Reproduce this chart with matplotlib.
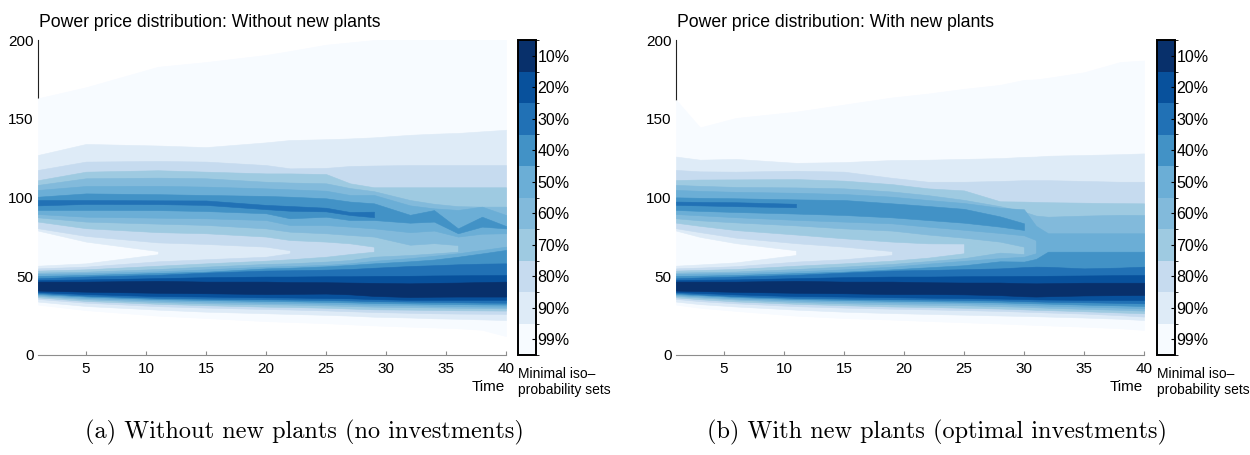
import matplotlib
matplotlib.use('Agg')
import matplotlib.pyplot as plt
import numpy as np
from matplotlib.colors import ListedColormap, BoundaryNorm
from matplotlib.cm import ScalarMappable

plt.rcParams['font.family'] = 'Liberation Sans'

nan = np.nan

# iso-probability levels, from the widest set (lightest) to the narrowest (darkest)
levels = ['99%', '90%', '80%', '70%', '60%', '50%', '40%', '30%', '20%', '10%']
colors = ['#f7fbff', '#deebf7', '#c6dbef', '#9ecae1', '#82badb',
          '#6baed6', '#4292c6', '#2171b5', '#08519c', '#08306b']

# ---- panel (a): without new plants ----
time_a = [1, 5, 11, 15, 20, 22, 25, 27, 29, 32, 34, 36, 38, 40]

# lower mode (low prices) of each set
a_low_bottom = [
    [32, 28.5, 25, 23.5, 21.5, 21, 20.2, 19.5, 18.8, 18, 17.5, 17, 16, 12],
    [33.9, 31.1, 28.8, 27.5, 26.5, 26.1, 25.5, 25, 24.3, 23.8, 23.3, 23, 22.6, 22.2],
    [35.6, 33.2, 31, 30.1, 29.2, 28.9, 28.3, 27.8, 27.3, 26.8, 26.5, 26.3, 26.2, 26.1],
    [36.6, 34.3, 32.5, 31.6, 30.7, 30.5, 30, 29.5, 29, 28.8, 28.6, 28.4, 28.3, 28.2],
    [37.5, 35.4, 33.6, 32.8, 32.2, 32, 31.5, 31.1, 30.7, 30.4, 30.2, 30, 29.8, 29.6],
    [38.1, 36.2, 34.6, 33.9, 33.2, 33, 32.6, 32.2, 31.9, 31.6, 31.3, 31, 30.8, 30.7],
    [38.7, 37.1, 35.5, 34.9, 34.3, 34.1, 33.7, 33.4, 33, 32.7, 32.5, 32.3, 32.1, 32],
    [39.4, 37.7, 36.3, 35.8, 35.4, 35.2, 34.9, 34.6, 34.2, 33.9, 33.7, 33.5, 33.3, 33.2],
    [40, 38.7, 37.4, 37.1, 36.6, 36.5, 36.2, 36, 35.5, 35, 35, 35, 35, 35],
    [40.9, 40.2, 39.5, 39.2, 38.7, 38.8, 39, 38.5, 37.5, 36.8, 37, 37.1, 37.1, 37.1],
]
a_low_top = [
    [163, 170, 183, 186, 190.5, 193, 197, 198.5, 200, 201, 201, 201, 201, 201],
    [56.7, 58.2, 64, 65, 65, 65, 65, 65, 65, 65, 65, 65, 65, 65],
    [55, 56.1, 59.5, 60.8, 62.4, 64.6, 66, 66, 66, 66, 66, 66, 66, 66],
    [53.6, 54.4, 56.7, 58.2, 59.9, 60.8, 62.4, 64.1, 65.6, 67, 67, 67, 67, 67],
    [52.3, 52.9, 54.6, 56.1, 57.8, 58.2, 59.3, 60.3, 62.4, 63.5, 64.5, 65.6, 67, 67],
    [51.5, 51.9, 53.1, 54.4, 56.1, 56.5, 57.2, 58.2, 59.8, 61.5, 63, 64.6, 66.7, 68.8],
    [50.2, 50.8, 52.1, 52.9, 55, 55.4, 56.3, 57.2, 58.2, 59.5, 60.6, 62.4, 64.5, 66.7],
    [48.7, 49.8, 50.9, 52.3, 53.6, 53.8, 54.2, 54.6, 55.4, 56.5, 57, 57.6, 58, 58.2],
    [47.6, 48, 48.8, 49.4, 49.8, 49.8, 50, 50, 50.2, 50.3, 50.5, 50.6, 50.7, 50.8],
    [46.6, 46.6, 47.1, 46.6, 46.6, 46.3, 46.2, 46, 45.8, 45.5, 45.8, 46, 46.3, 46.6],
]
# upper mode (high prices) of each set, nan where the set has no upper part
a_high_bottom = [
    None,
    [79, 72, 66, 65, 65, 65, 65, 65, 65, 65, 65, 65, 65, 65],
    [80.5, 75.6, 71.5, 70.5, 68.8, 66.5, 66, 66, 66, 66, 66, 66, 66, 66],
    [84.7, 80.5, 78, 77.3, 75.2, 73, 72, 70.9, 68.8, 67, 67, 67, 67, 67],
    [87.4, 84.7, 83.4, 82.6, 80.4, 78.3, 77.3, 76.2, 75.2, 70, 71, 69.8, 67, 67],
    [89.5, 87.8, 87.2, 86.8, 85.7, 82.5, 82.5, 81.5, 80.4, 78, 79, 75.2, 77, 77.3],
    [92.1, 92.1, 92, 91.4, 90, 86.8, 87.8, 85.7, 85.7, 84, 84.7, 77.3, 81.5, 80.4],
    [95, 95.9, 95.8, 95.3, 92.6, 91.6, 91.2, 88.9, 87.5, nan, nan, nan, nan, nan],
    None,
    None,
]
a_high_top = [
    None,
    [127, 134, 133, 132, 135, 136.5, 137, 137.5, 138.2, 139.8, 140.5, 141, 142, 143],
    [117.5, 122.8, 123.2, 122.8, 120.6, 118.5, 118.8, 120, 120.3, 120.6, 120.6, 120.6, 120.6, 120.6],
    [111, 116.4, 117.3, 116.4, 115.3, 115.3, 114.9, 109, 106.5, 106.5, 106.5, 106.5, 106.5, 106.5],
    [108, 112.2, 112.6, 112.2, 110, 109.5, 109, 106, 104, 98.4, 96, 94.5, 94.2, 94.2],
    [104.8, 107.3, 107.4, 106.9, 105.8, 105.2, 104.3, 101.6, 101.6, 95, 93.1, 92.1, 94.2, 88.9],
    [100.5, 102.6, 102.1, 101.6, 101, 100.5, 99.5, 97.4, 96.3, 89, 92, 80.4, 87.8, 81.9],
    [98.4, 98.4, 98.2, 98.1, 95.3, 94.6, 93.5, 90.8, 91, nan, nan, nan, nan, nan],
    None,
    None,
]
# time at which the two parts of a set join
a_merge = [None, 11, 22, 29, 36, None, None, None, None, None]

# ---- panel (b): with new plants ----
time_b = [1, 3, 6, 11, 15, 19, 22, 25, 28, 30, 31, 32, 35, 38, 40]

b_low_bottom = [
    [32, 30, 28, 25, 23.5, 22.5, 21.6, 20.8, 20, 19.4, 19.1, 18.8, 18, 17, 15.9],
    [33.9, 32.3, 30.8, 28.8, 27.5, 26.6, 26.1, 25.6, 25.1, 24.8, 24.6, 24.4, 23.8, 23, 22.2],
    [35.6, 34.2, 32.8, 31, 30.1, 29.4, 29, 28.5, 28, 27.5, 27.3, 27, 26.3, 25.3, 24.4],
    [36.6, 35.4, 34, 32.5, 31.6, 30.8, 30.5, 30, 29.5, 29, 28.7, 28.5, 27.8, 27, 26.5],
    [37.5, 36.5, 35.2, 33.6, 32.8, 32.2, 31.9, 31.6, 31, 30.6, 30.3, 30, 29.3, 28.7, 28.2],
    [38.1, 37.2, 35.9, 34.6, 33.9, 33.4, 33.1, 32.8, 32.3, 31.8, 31.5, 31.3, 30.7, 30.1, 29.6],
    [38.7, 38, 36.8, 35.5, 34.9, 34.4, 34.1, 33.8, 33.4, 33, 32.8, 32.6, 32, 31.5, 31.1],
    [39.4, 38.5, 37.4, 36.3, 35.8, 35.4, 35.2, 34.9, 34.6, 34.2, 34, 33.8, 33.5, 33.1, 32.8],
    [40, 39.4, 38.5, 37.4, 37.1, 36.7, 36.4, 36.1, 35.8, 35.5, 35.3, 35.2, 35, 34.9, 34.9],
    [40.9, 40.6, 40.1, 39.5, 39.2, 38.7, 38.7, 38.5, 38, 37.3, 37.1, 37.3, 37.8, 38, 38.1],
]
b_low_top = [
    [162, 144.5, 150.5, 154.5, 159, 163.5, 166, 169, 171.5, 174.7, 175, 176, 179.5, 186, 187],
    [56.7, 57.5, 58.8, 63.5, 65, 65, 65, 65, 65, 65, 65, 65, 65, 65, 65],
    [55, 55.5, 56.4, 59.3, 60.8, 63.5, 66, 66, 66, 66, 66, 66, 66, 66, 66],
    [53.6, 54, 54.6, 56.7, 58.2, 59.9, 61.8, 64.6, 66, 66, 66, 66, 66, 66, 66],
    [52.3, 52.6, 53, 54.6, 56.1, 57.8, 59.6, 61.5, 65, 64.1, 66, 66, 66, 66, 66],
    [51.5, 51.7, 52, 53.1, 54.4, 56.1, 58, 59.8, 61.5, 62.4, 64.6, 66, 66, 66, 66],
    [50.2, 50.4, 50.8, 52, 52.9, 54.4, 55.7, 57, 59.5, 59.3, 61, 65.6, 65.6, 65.6, 65.6],
    [48.7, 49.2, 49.8, 50.9, 52.3, 53.6, 54, 54.5, 55, 55.8, 56.1, 56, 55, 55.5, 56.1],
    [47.6, 47.8, 48, 48.8, 49.4, 49.8, 49.8, 50, 50.1, 50.2, 50.2, 50.3, 50.5, 50.7, 50.8],
    [46.6, 46.6, 46.6, 47.1, 46.6, 46.6, 46.2, 46, 46, 45.6, 45.5, 45.6, 45.9, 45.9, 45.9],
]
b_high_bottom = [
    None,
    [79, 75, 71, 66.5, 65, 65, 65, 65, 65, 65, 65, 65, 65, 65, 65],
    [80.5, 78, 74.5, 71, 68.8, 66, 66, 66, 66, 66, 66, 66, 66, 66, 66],
    [84, 82, 79.3, 76.5, 74.1, 72, 70.9, 70.8, 66, 66, 66, 66, 66, 66, 66],
    [86.8, 85.5, 84.2, 82.3, 80.4, 79, 76.5, 74.5, 72, 68.8, 66, 66, 66, 66, 66],
    [89.5, 88.7, 87.5, 85.8, 84.7, 83.6, 81.5, 79.5, 77.5, 76, 73, 66, 66, 66, 66],
    [92.1, 91.5, 90.8, 89.8, 88.9, 87.4, 85.7, 84, 81.5, 79.4, nan, nan, nan, nan, nan],
    [95.3, 95, 94.5, 93.8, nan, nan, nan, nan, nan, nan, nan, nan, nan, nan, nan],
    None,
    None,
]
b_high_top = [
    None,
    [126, 124, 124.5, 122, 122.5, 123.8, 124, 124.5, 125, 125.8, 126, 126.5, 127, 127.5, 128],
    [117.5, 116.6, 116.4, 117, 116.4, 112.5, 110, 110, 110.5, 111, 111, 111, 110.5, 110, 110],
    [111.1, 111.4, 111.5, 111.7, 110.7, 108.5, 105.8, 104.5, 97.6, 97.4, 97.2, 97, 96.7, 96.4, 96.3],
    [108, 107.4, 106.7, 106.4, 105.8, 103.8, 101.5, 98.5, 94.5, 91, 88.5, 87.8, 88.5, 89, 88.9],
    [104.8, 104.2, 103.6, 103, 102.2, 100.5, 98.4, 96.5, 93.5, 92.5, 82, 77.3, 77.3, 77.3, 77.3],
    [100.1, 99.8, 99.5, 98.8, 98.4, 96.3, 94.6, 92.8, 88, 83.6, nan, nan, nan, nan, nan],
    [97.4, 97.2, 97, 96, nan, nan, nan, nan, nan, nan, nan, nan, nan, nan, nan],
    None,
    None,
]
b_merge = [None, 11, 19, 25, 30, 31, None, None, None, None]

titles = ['Power price distribution: Without new plants',
          'Power price distribution: With new plants']
captions = ['(a) Without new plants (no investments)',
            '(b) With new plants (optimal investments)']


def draw_sets(ax, t, low_bottom, low_top, high_bottom, high_top, merge):
    t = np.array(t, dtype=float)
    for k, col in enumerate(colors):
        kw = dict(facecolor=col, edgecolor=col, linewidth=0.4, zorder=1)
        ax.fill_between(t, low_bottom[k], low_top[k], **kw)
        if high_bottom[k] is not None:
            ax.fill_between(t, high_bottom[k], high_top[k], **kw)
        if merge[k] is not None:
            ax.fill_between(t, low_top[k], high_bottom[k], where=t >= merge[k], **kw)


W, H = 1250, 455
fig = plt.figure(figsize=(W / 100, H / 100), dpi=100)

panels = [
    (38, 518, time_a, a_low_bottom, a_low_top, a_high_bottom, a_high_top, a_merge),
    (676, 1157, time_b, b_low_bottom, b_low_top, b_high_bottom, b_high_top, b_merge),
]

cmap = ListedColormap(colors)
norm = BoundaryNorm(np.arange(len(levels) + 1), len(levels))

for i, (x0, cx0, t, lb, lt, hb, ht, mg) in enumerate(panels):
    ax = fig.add_axes([x0 / W, 100 / H, 468 / W, 315 / H])
    draw_sets(ax, t, lb, lt, hb, ht, mg)
    ax.set_xlim(1, 40)
    ax.set_ylim(0, 200)
    ax.set_xticks(np.arange(5, 41, 5))
    ax.set_yticks(np.arange(0, 201, 50))
    for s in ['top', 'right']:
        ax.spines[s].set_visible(False)
    # the axis line only shows above the widest set
    ax.spines['left'].set_bounds(lt[0][0], 200)
    ax.spines['left'].set_color('#222222')
    ax.spines['left'].set_zorder(0.5)
    ax.spines['bottom'].set_color('#8c8c8c')
    ax.tick_params(axis='x', direction='in', length=3, color='#8c8c8c',
                   labelsize=11, pad=5)
    ax.tick_params(axis='y', direction='in', length=0, labelsize=11, pad=3)

    fig.text((x0 + 1) / W, 1 - 26.7 / H, titles[i], fontsize=12.7, va='baseline')
    fig.text((x0 + 467) / W, 1 - 387 / H, 'Time', fontsize=11,
             ha='right', va='center')

    cax = fig.add_axes([cx0 / W, 100 / H, 18 / W, 315 / H])
    cb = fig.colorbar(ScalarMappable(norm=norm, cmap=cmap), cax=cax,
                      ticks=np.arange(len(levels)) + 0.5)
    cb.set_ticklabels(levels)
    cb.outline.set_linewidth(1.4)
    cb.outline.set_edgecolor('black')
    cax.tick_params(direction='in', length=3, pad=1, labelsize=11.5)
    fig.text(cx0 / W, 1 - 377.7 / H, 'Minimal iso\u2013', fontsize=10, va='baseline')
    fig.text(cx0 / W, 1 - 394.3 / H, 'probability sets', fontsize=10, va='baseline')

fig.text(304 / W, 1 - 432 / H, captions[0], fontsize=17.5, family='cmr10',
         ha='center', va='center')
fig.text(937 / W, 1 - 432 / H, captions[1], fontsize=17.5, family='cmr10',
         ha='center', va='center')

fig.savefig('out.png', dpi=100)
